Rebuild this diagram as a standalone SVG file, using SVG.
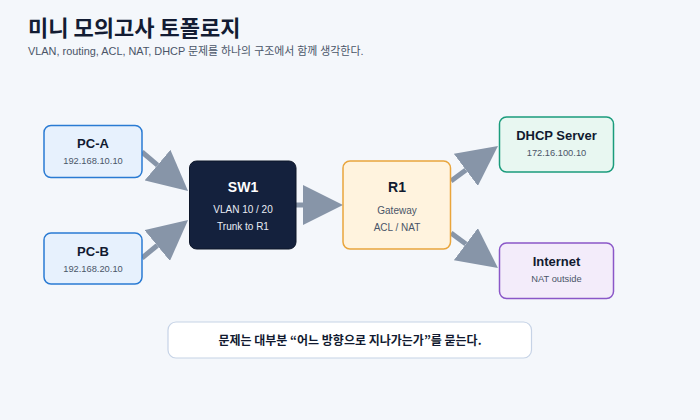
<svg xmlns="http://www.w3.org/2000/svg" width="700" height="420" viewBox="0 0 700 420">
<defs>
<marker id="ah" markerUnits="userSpaceOnUse" markerWidth="40" markerHeight="40" viewBox="0 0 10 10" refX="0" refY="5" orient="auto">
<path d="M0,0 L10,5 L0,10 z" fill="#8795a8"/>
</marker>
<style>
.t{font-family:"Liberation Sans","Noto Sans CJK KR",sans-serif;text-anchor:middle}
.h{font-weight:bold;font-size:13px;fill:#111a30}
.s{font-size:9.3px;fill:#4a5568}
.big{font-weight:bold;font-size:14px}
.m{font-size:10px}
.c{stroke:#8795a8;stroke-width:5;fill:none;marker-end:url(#ah)}
</style>
</defs>
<rect width="700" height="420" fill="#f4f7fb"/>
<text x="28" y="36" font-family="'Noto Sans CJK KR',sans-serif" font-weight="bold" font-size="22" fill="#131c33">미니 모의고사 토폴로지</text>
<text x="28" y="55" font-family="'Liberation Sans','Noto Sans CJK KR',sans-serif" font-size="10.9" fill="#4a5568">VLAN, routing, ACL, NAT, DHCP 문제를 하나의 구조에서 함께 생각한다.</text>
<g id="connectors">
<line class="c" x1="142" y1="152" x2="157.5" y2="165.1"/>
<line class="c" x1="142" y1="258" x2="157.2" y2="245.5"/>
<line class="c" x1="296" y1="205" x2="303" y2="205"/>
<line class="c" x1="451" y1="181" x2="465.9" y2="169.9"/>
<line class="c" x1="451" y1="233" x2="465.9" y2="244.1"/>
</g>
<g id="pc-a">
<rect x="44" y="125.5" width="98" height="52" rx="7" fill="#e7f1fd" stroke="#2a7bd3" stroke-width="1.5"/>
<text class="t h" x="93" y="148">PC-A</text>
<text class="t s" x="93" y="164">192.168.10.10</text>
</g>
<g id="pc-b">
<rect x="44" y="233" width="98" height="51" rx="7" fill="#e7f1fd" stroke="#2a7bd3" stroke-width="1.5"/>
<text class="t h" x="93" y="255.5">PC-B</text>
<text class="t s" x="93" y="271.5">192.168.20.10</text>
</g>
<g id="sw1">
<rect x="189.5" y="161" width="106.5" height="88" rx="7" fill="#14213d" stroke="#0d1629" stroke-width="1"/>
<text class="t big" x="243" y="191.5" fill="#ffffff">SW1</text>
<text class="t m" x="243" y="213" fill="#e8edf5">VLAN 10 / 20</text>
<text class="t m" x="243" y="230" fill="#e8edf5">Trunk to R1</text>
</g>
<g id="r1">
<rect x="343" y="161" width="107.5" height="88" rx="7" fill="#fff3de" stroke="#e9a53c" stroke-width="1.5"/>
<text class="t big" x="397" y="191.5" fill="#111a30">R1</text>
<text class="t m" x="397" y="214" fill="#4a5568">Gateway</text>
<text class="t m" x="397" y="230.5" fill="#4a5568">ACL / NAT</text>
</g>
<g id="dhcp">
<rect x="499.5" y="117" width="114" height="55" rx="7" fill="#e8f7f1" stroke="#1a9c7c" stroke-width="1.5"/>
<text class="t h" x="556.5" y="139.5">DHCP Server</text>
<text class="t s" x="556.5" y="156">172.16.100.10</text>
</g>
<g id="internet">
<rect x="499.5" y="243" width="114" height="55.5" rx="7" fill="#f3ecfa" stroke="#8a57c8" stroke-width="1.5"/>
<text class="t h" x="556.5" y="265.5">Internet</text>
<text class="t s" x="556.5" y="282">NAT outside</text>
</g>
<g id="note">
<rect x="168" y="322" width="363.5" height="36" rx="8" fill="#ffffff" stroke="#c6d3e6" stroke-width="1.2"/>
<text x="350" y="344.5" text-anchor="middle" font-family="'Noto Sans CJK KR',sans-serif" font-weight="bold" font-size="12" fill="#111a30">문제는 대부분 “어느 방향으로 지나가는가”를 묻는다.</text>
</g>
</svg>
